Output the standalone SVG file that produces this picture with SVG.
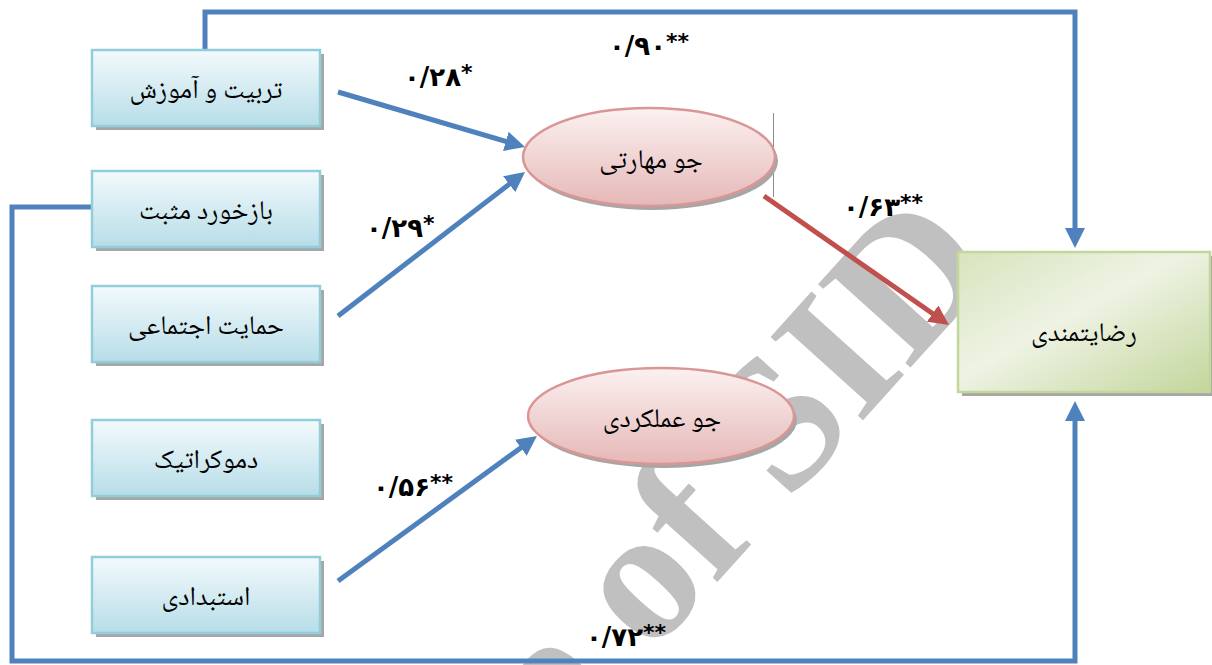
<svg xmlns="http://www.w3.org/2000/svg" width="1212" height="665" viewBox="0 0 1212 665">
<defs>
<style>
.box{fill:url(#gBlue);stroke:#92cddc;stroke-width:2.5}
.shadow{fill:#a6a6a6}
.ell{fill:url(#gPink);stroke:#d99694;stroke-width:2.5}
.lbl{font-family:"Noto Naskh Arabic","DejaVu Sans",sans-serif;font-size:27px;fill:#000;text-anchor:middle}
.num{font-family:"DejaVu Sans",sans-serif;font-weight:bold;font-size:26px;fill:#000;text-anchor:end}
.ast{font-family:"DejaVu Sans",sans-serif;font-weight:bold;font-size:22px;fill:#000;text-anchor:start}
.blue{fill:none;stroke:#4f81bd;stroke-width:5}
.red{fill:none;stroke:#c0504d;stroke-width:5}
</style>
<linearGradient id="gBlue" x1="0" y1="0" x2="0" y2="1">
<stop offset="0" stop-color="#f3fafc"/>
<stop offset="1" stop-color="#b7dde8"/>
</linearGradient>
<linearGradient id="gPink" x1="0" y1="0" x2="0" y2="1">
<stop offset="0" stop-color="#fcf1f1"/>
<stop offset="1" stop-color="#e5b8b7"/>
</linearGradient>
<linearGradient id="gGreen" x1="0" y1="0" x2="1" y2="1">
<stop offset="0" stop-color="#d7e4bd"/>
<stop offset="0.45" stop-color="#eef3e4"/>
<stop offset="1" stop-color="#c3d69b"/>
</linearGradient>
<marker id="aBlue" markerUnits="userSpaceOnUse" markerWidth="22" markerHeight="20" refX="10" refY="10" orient="auto">
<path d="M0,0 L20,10 L0,20 z" fill="#4f81bd"/>
</marker>
<marker id="aRed" markerUnits="userSpaceOnUse" markerWidth="22" markerHeight="20" refX="10" refY="10" orient="auto">
<path d="M0,0 L20,10 L0,20 z" fill="#c0504d"/>
</marker>
</defs>
<rect width="1212" height="665" fill="#ffffff"/>
<g id="watermark">
<text x="1000" y="268" transform="rotate(-48 1000 268)" font-family="Liberation Serif, serif" font-weight="bold" font-size="190" fill="#c0c0c0" text-anchor="end">Archive of SID</text>
</g>
<g id="connectors">
<path class="blue" d="M205,50 V12 H1075 V238" marker-end="url(#aBlue)"/>
<path class="blue" d="M92,207 H12 V661 H1075 V411" marker-end="url(#aBlue)"/>
<line class="blue" x1="338" y1="92" x2="515.4" y2="144.2" marker-end="url(#aBlue)"/>
<line class="blue" x1="338" y1="316" x2="517.1" y2="178.1" marker-end="url(#aBlue)"/>
<line class="blue" x1="338" y1="581" x2="528.9" y2="441.9" marker-end="url(#aBlue)"/>
<line class="red" x1="764" y1="196" x2="940.8" y2="319.3" marker-end="url(#aRed)"/>
<line x1="773.5" y1="113" x2="773.5" y2="197" stroke="#8c8c8c" stroke-width="1"/>
</g>
<g id="n1">
<rect class="shadow" x="96" y="54" width="228" height="76"/>
<rect class="box" x="92" y="50" width="228" height="76"/>
<text class="lbl" x="206" y="98">تربیت و آموزش</text>
</g>
<g id="n2">
<rect class="shadow" x="96" y="175" width="228" height="76"/>
<rect class="box" x="92" y="171" width="228" height="76"/>
<text class="lbl" x="206" y="219">بازخورد مثبت</text>
</g>
<g id="n3">
<rect class="shadow" x="96" y="290" width="228" height="76"/>
<rect class="box" x="92" y="286" width="228" height="76"/>
<text class="lbl" x="206" y="334">حمایت اجتماعی</text>
</g>
<g id="n4">
<rect class="shadow" x="96" y="424" width="228" height="76"/>
<rect class="box" x="92" y="420" width="228" height="76"/>
<text class="lbl" x="206" y="468">دموکراتیک</text>
</g>
<g id="n5">
<rect class="shadow" x="96" y="561" width="228" height="76"/>
<rect class="box" x="92" y="557" width="228" height="76"/>
<text class="lbl" x="206" y="605">استبدادی</text>
</g>
<g id="e1">
<ellipse cx="652" cy="161" rx="126" ry="49" fill="#a6a6a6"/>
<ellipse class="ell" cx="649" cy="157" rx="126" ry="49"/>
<text class="lbl" x="651" y="168">جو مهارتی</text>
</g>
<g id="e2">
<ellipse cx="664" cy="420" rx="133" ry="48" fill="#a6a6a6"/>
<ellipse class="ell" cx="661" cy="416" rx="133" ry="48"/>
<text class="lbl" x="662" y="427">جو عملکردی</text>
</g>
<g id="target">
<rect class="shadow" x="962" y="256" width="252" height="140"/>
<rect x="958" y="252" width="252" height="140" fill="url(#gGreen)" stroke="#c3d69b" stroke-width="2.5"/>
<text class="lbl" x="1084" y="341">رضایتمندی</text>
</g>
<g id="labels">
<text class="num" x="461" y="86">۰/۲۸</text><text class="ast" x="461" y="80">*</text>
<text class="num" x="666" y="55">۰/۹۰</text><text class="ast" x="666" y="49">**</text>
<text class="num" x="900" y="216">۰/۶۳</text><text class="ast" x="900" y="210">**</text>
<text class="num" x="423" y="237">۰/۲۹</text><text class="ast" x="423" y="231">*</text>
<text class="num" x="430" y="496">۰/۵۶</text><text class="ast" x="430" y="490">**</text>
<text class="num" x="643" y="646">۰/۷۲</text><text class="ast" x="643" y="640">**</text>
</g>
</svg>
